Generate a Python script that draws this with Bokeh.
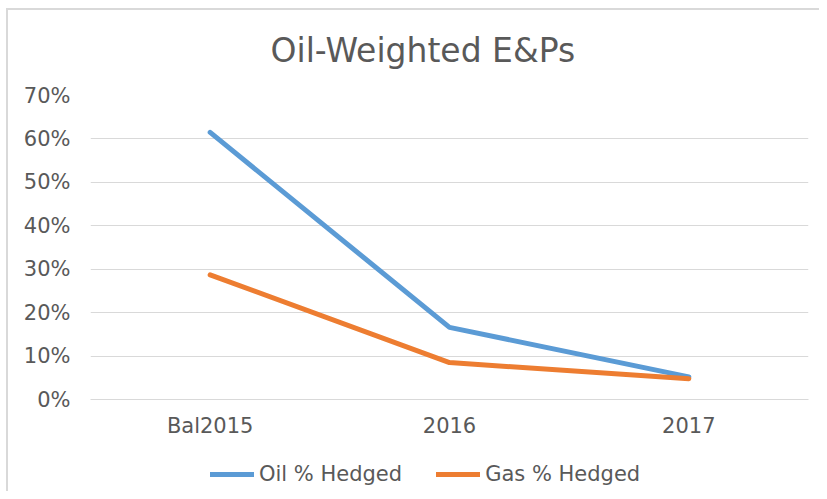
from bokeh.plotting import figure
from bokeh.layouts import column
from bokeh.models import FactorRange, Range1d, NumeralTickFormatter, Legend, LegendItem, FixedTicker
from bokeh.embed import file_html
from bokeh.resources import INLINE

categories = ["Bal2015", "2016", "2017"]
oil_hedged = [0.615, 0.166, 0.052]
gas_hedged = [0.287, 0.085, 0.048]
y_ticks = [0.0, 0.1, 0.2, 0.3, 0.4, 0.5, 0.6, 0.7]
series_names = ["Oil % Hedged", "Gas % Hedged"]
series_colors = ["#5b9bd5", "#ed7d31"]
series_values = [oil_hedged, gas_hedged]

TXT = "#595959"
GRID = "#d9d9d9"
FONT = "DejaVu Sans"

p = figure(width=819, height=448, x_range=FactorRange(*categories, range_padding=0),
           y_range=Range1d(0, 0.7), output_backend="svg", toolbar_location=None,
           min_border_left=90, min_border_right=11, min_border_top=95, min_border_bottom=49)
p.outline_line_color = None
p.border_fill_color = None

p.title.text = "Oil-Weighted E&Ps"
p.title.text_font = FONT
p.title.text_font_size = "33px"
p.title.text_font_style = "normal"
p.title.text_color = TXT
p.title.align = "left"
p.title.offset = 180
p.title.standoff = 51

for vals, col in zip(series_values, series_colors):
    p.line(categories, vals, line_color=col, line_width=5, line_cap="round", line_join="round")

p.yaxis.ticker = FixedTicker(ticks=y_ticks)
p.yaxis.formatter = NumeralTickFormatter(format="0%")
for ax in (p.xaxis[0], p.yaxis[0]):
    ax.major_label_text_font = FONT
    ax.major_label_text_font_size = "21px"
    ax.major_label_text_color = TXT
    ax.major_tick_line_color = None
    ax.minor_tick_line_color = None
    ax.major_tick_out = 0
    ax.major_tick_in = 0
p.yaxis.axis_line_color = None
p.yaxis.major_label_standoff = 20
p.xaxis.axis_line_color = GRID
p.xaxis.major_label_standoff = 14

p.xgrid.grid_line_color = None
p.ygrid.grid_line_color = GRID
p.ygrid.grid_line_width = 1

# legend strip (its dummy lines lie outside the visible y range)
lg = figure(width=819, height=43, output_backend="svg", toolbar_location=None,
            min_border=0, x_range=Range1d(0, 1), y_range=Range1d(5, 6))
lg.outline_line_color = None
lg.border_fill_color = None
lg.background_fill_color = None
lg.axis.visible = False
lg.grid.visible = False
items = []
for name, col, vals in zip(series_names, series_colors, series_values):
    r = lg.line(list(range(len(vals))), vals, line_color=col, line_width=5, line_cap="round")
    items.append(LegendItem(label=name, renderers=[r]))
legend = Legend(items=items, orientation="horizontal", location=(120, 5))
legend.border_line_color = None
legend.background_fill_alpha = 0
legend.label_text_font = FONT
legend.label_text_font_size = "21px"
legend.label_text_color = TXT
legend.glyph_width = 44
legend.label_standoff = 5
legend.spacing = 34
legend.padding = 0
legend.margin = 0
lg.add_layout(legend, "center")

layout = column(p, lg, spacing=0)
layout.styles = {
    "background": ("linear-gradient(#d9d9d9, #d9d9d9) 6px 8px / 2px 100% no-repeat, "
                   "linear-gradient(#d9d9d9, #d9d9d9) 6px 8px / 100% 2px no-repeat, #ffffff"),
}
open("out.html", "w").write(file_html(layout, INLINE))
